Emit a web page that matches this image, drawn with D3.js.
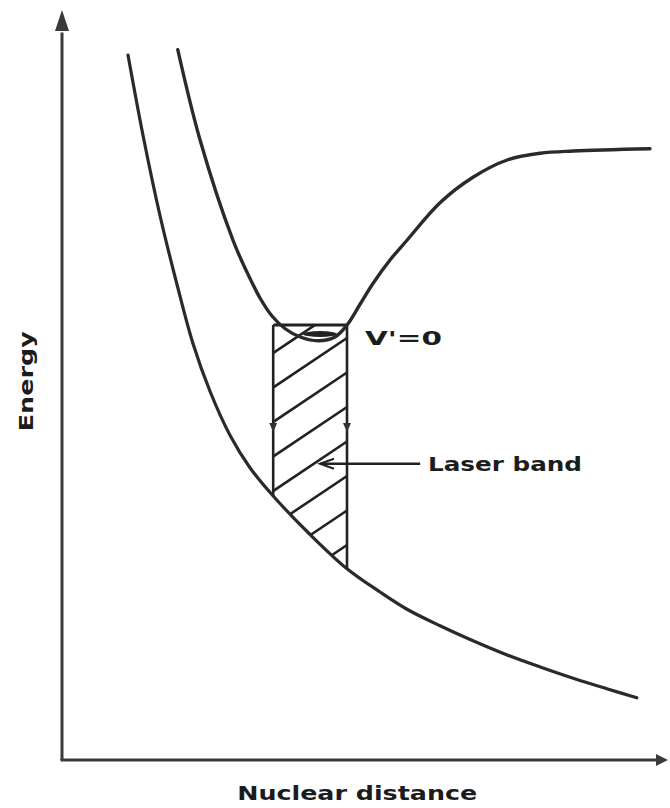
<!DOCTYPE html>
<html>
<head>
<meta charset="utf-8">
<script src="https://cdn.jsdelivr.net/npm/d3@7"></script>
<style>
  html, body { margin: 0; padding: 0; background: #fff; }
  svg { display: block; }
  text { font-family: "DejaVu Sans", sans-serif; font-weight: bold; fill: #1c1c1c; }
</style>
</head>
<body>
<svg id="chart" width="670" height="808"></svg>
<script>
// ---- Data (nuclear distance, energy), arbitrary units ----
const upperR = [1.93, 2.30, 2.85, 3.08, 3.30, 3.50, 3.72, 3.97, 4.27, 4.55, 4.75, 4.97, 5.18, 5.47, 5.75, 6.30, 6.85, 7.42, 7.97, 8.52, 9.80];
const upperE = [9.47, 8.27, 6.93, 6.51, 6.16, 5.92, 5.75, 5.64, 5.59, 5.64, 5.80, 6.08, 6.35, 6.67, 6.93, 7.43, 7.77, 8.00, 8.09, 8.12, 8.15];
const lowerR = [1.10, 1.35, 1.63, 1.92, 2.18, 2.47, 2.80, 3.13, 3.52, 4.13, 4.75, 5.30, 5.75, 6.30, 6.85, 7.42, 7.97, 8.52, 9.08, 9.58];
const lowerE = [9.40, 8.33, 7.27, 6.33, 5.56, 4.91, 4.33, 3.90, 3.52, 3.01, 2.55, 2.24, 2.01, 1.79, 1.59, 1.40, 1.24, 1.09, 0.95, 0.83];
const bandR = [3.52, 4.75];          // laser band edges (nuclear distance)
const levelV0 = 5.80;                // v' = 0 level energy
const transitionE = 4.44;            // small arrow marks on band edges
const labels = ["V'=0", "Laser band", "Energy", "Nuclear distance"];
const laserArrowR = [5.97, 4.30];
const laserArrowE = 3.95;

// ---- Layout ----
const svg = d3.select("#chart");
const x = d3.scaleLinear().domain([0, 10]).range([62, 662]);
const y = d3.scaleLinear().domain([0, 10]).range([760, 10]);

const upper = upperR.map((r, i) => [r, upperE[i]]);
const lower = lowerR.map((r, i) => [r, lowerE[i]]);
const line = d3.line().x(d => x(d[0])).y(d => y(d[1])).curve(d3.curveCatmullRom.alpha(0.5));

const defs = svg.append("defs");

// axes
const axisColor = "#3a3a3a";
svg.append("line").attr("x1", x(0)).attr("y1", y(0)).attr("x2", x(0)).attr("y2", y(9.7))
  .attr("stroke", axisColor).attr("stroke-width", 3);
svg.append("path")
  .attr("d", `M${x(0)},${y(10)} L${x(0) - 7},${y(10) + 21} L${x(0) + 7},${y(10) + 21} Z`)
  .attr("fill", axisColor);
svg.append("line").attr("x1", x(0) - 1.5).attr("y1", y(0)).attr("x2", x(10.0)).attr("y2", y(0))
  .attr("stroke", axisColor).attr("stroke-width", 3);
svg.append("path")
  .attr("d", `M${x(10.1)},${y(0)} L${x(10.1) - 12},${y(0) - 6} L${x(10.1) - 12},${y(0) + 6} Z`)
  .attr("fill", axisColor);

// clip for hatching: band rectangle intersected with region above the lower curve
defs.append("clipPath").attr("id", "bandRect").append("rect")
  .attr("x", x(bandR[0])).attr("y", y(levelV0))
  .attr("width", x(bandR[1]) - x(bandR[0])).attr("height", y(0) - y(levelV0));
const lowerD = line(lower);
const lx0 = x(lowerR[0]), lx1 = x(lowerR[lowerR.length - 1]);
defs.append("clipPath").attr("id", "aboveLower").append("path")
  .attr("d", lowerD + `L${lx1},0 L${lx0},0 Z`);

const hatchG = svg.append("g").attr("clip-path", "url(#bandRect)")
  .append("g").attr("clip-path", "url(#aboveLower)");
const bx0 = x(bandR[0]), bx1 = x(bandR[1]);
const slope = 0.67, gap = 34.5, firstY = 353;
for (let i = 0; i < 9; i++) {
  const yl = firstY + i * gap;
  hatchG.append("line")
    .attr("x1", bx0 - 10).attr("y1", yl + slope * 10)
    .attr("x2", bx1 + 10).attr("y2", yl - slope * (bx1 - bx0 + 10))
    .attr("stroke", "#222").attr("stroke-width", 2.6);
}

// band edges
function lowerAt(r) {
  const p = svg.append("path").attr("d", lowerD).attr("fill", "none").attr("stroke", "none");
  const node = p.node(), L = node.getTotalLength();
  const target = x(r);
  let lo = 0, hi = L;
  for (let k = 0; k < 40; k++) {
    const mid = (lo + hi) / 2;
    if (node.getPointAtLength(mid).x < target) lo = mid; else hi = mid;
  }
  const yy = node.getPointAtLength(lo).y;
  p.remove();
  return yy;
}
bandR.forEach(r => {
  svg.append("line").attr("x1", x(r)).attr("x2", x(r))
    .attr("y1", y(levelV0)).attr("y2", lowerAt(r))
    .attr("stroke", "#222").attr("stroke-width", 2.6);
  const cx = x(r), cy = y(transitionE);
  svg.append("path")
    .attr("d", `M${cx - 4},${cy - 4} L${cx + 4},${cy - 4} L${cx},${cy + 5} Z`)
    .attr("fill", "#333");
});
// v'=0 level line
svg.append("line").attr("x1", bx0).attr("x2", bx1)
  .attr("y1", y(levelV0)).attr("y2", y(levelV0))
  .attr("stroke", "#222").attr("stroke-width", 2.8);
// little lens at the bottom of the well
svg.append("ellipse")
  .attr("cx", x(4.3)).attr("cy", y(5.68)).attr("rx", 17).attr("ry", 3)
  .attr("fill", "#222");

// curves
svg.append("path").attr("d", line(upper)).attr("fill", "none")
  .attr("stroke", "#2a2a2a").attr("stroke-width", 3.4).attr("stroke-linejoin", "round").attr("stroke-linecap", "round");
svg.append("path").attr("d", lowerD).attr("fill", "none")
  .attr("stroke", "#2a2a2a").attr("stroke-width", 3.2).attr("stroke-linejoin", "round").attr("stroke-linecap", "round");

// laser band pointer
const ax0 = x(laserArrowR[0]), ax1 = x(laserArrowR[1]), ay = y(laserArrowE);
svg.append("line").attr("x1", ax0).attr("x2", ax1).attr("y1", ay).attr("y2", ay)
  .attr("stroke", "#222").attr("stroke-width", 2.4);
svg.append("path").attr("d", `M${ax1 + 14},${ay - 5} L${ax1},${ay} L${ax1 + 14},${ay + 5}`)
  .attr("fill", "none").attr("stroke", "#222").attr("stroke-width", 2);

// labels
svg.append("text").text(labels[0])
  .attr("x", x(5.05)).attr("y", y(5.53)).attr("font-size", 20)
  .attr("textLength", 77).attr("lengthAdjust", "spacingAndGlyphs");
svg.append("text").text(labels[1])
  .attr("x", x(6.1)).attr("y", y(3.85)).attr("font-size", 20)
  .attr("textLength", 154).attr("lengthAdjust", "spacingAndGlyphs");
svg.append("text").text(labels[2])
  .attr("transform", `translate(${x(0) - 29},${y(5.05)}) rotate(-90)`)
  .attr("text-anchor", "middle").attr("font-size", 19)
  .attr("textLength", 100).attr("lengthAdjust", "spacingAndGlyphs");
svg.append("text").text(labels[3])
  .attr("x", x(4.92)).attr("y", 800).attr("text-anchor", "middle").attr("font-size", 20)
  .attr("textLength", 240).attr("lengthAdjust", "spacingAndGlyphs");
</script>
</body>
</html>
